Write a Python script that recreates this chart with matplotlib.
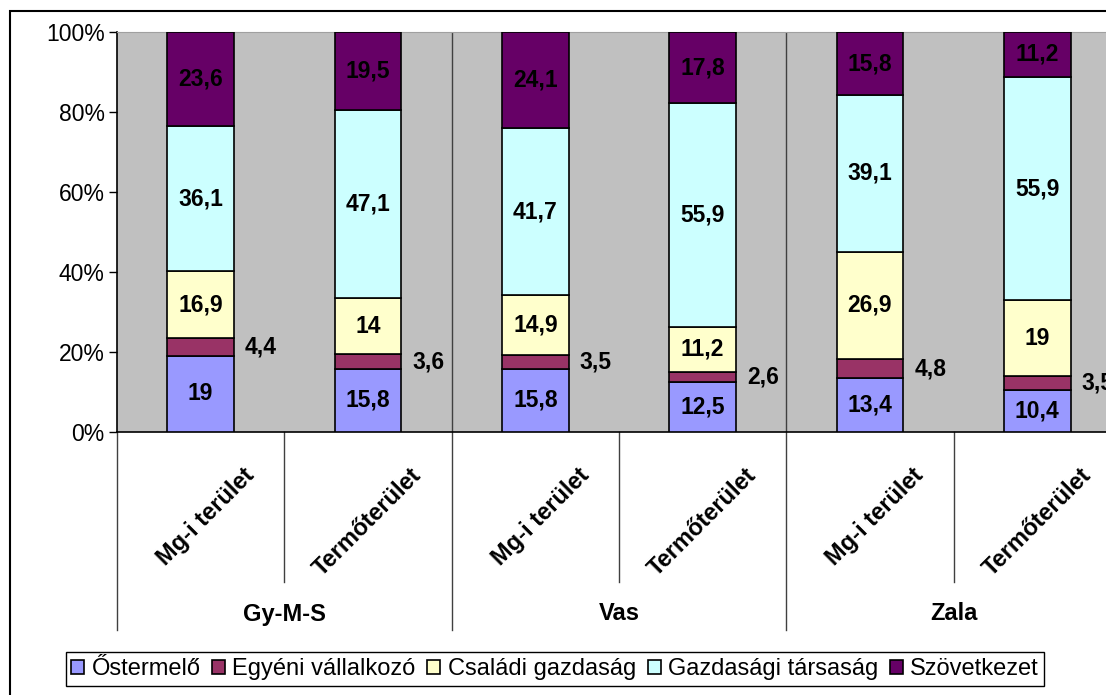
import numpy as np
import matplotlib
matplotlib.use("Agg")
import matplotlib.pyplot as plt
from matplotlib.patches import Rectangle

plt.rcParams['font.family'] = ['Liberation Sans', 'DejaVu Sans']

# data (percent shares)
groups = ['Gy-M-S', 'Vas', 'Zala']
subcats = ['Mg-i terület', 'Termőterület']
series = ['Őstermelő', 'Egyéni vállalkozó', 'Családi gazdaság',
          'Gazdasági társaság', 'Szövetkezet']
ostermelo = [19, 15.8, 15.8, 12.5, 13.4, 10.4]
egyeni = [4.4, 3.6, 3.5, 2.6, 4.8, 3.5]
csaladi = [16.9, 14, 14.9, 11.2, 26.9, 19]
tarsasag = [36.1, 47.1, 41.7, 55.9, 39.1, 55.9]
szovetkezet = [23.6, 19.5, 24.1, 17.8, 15.8, 11.2]
colors = ['#9999FF', '#993366', '#FFFFCC', '#CCFFFF', '#660066']

W, H = 1106, 695
fig = plt.figure(figsize=(W / 100, H / 100), dpi=100)

# outer chart border
fig.patches.append(Rectangle((10 / W, -0.01), 1.2, 1 - 11 / H + 0.01,
                             transform=fig.transFigure, fill=False,
                             edgecolor='black', linewidth=1.5))

ax = fig.add_axes([117 / W, (H - 432) / H, 1004 / W, 400 / H])
ax.set_facecolor('#C0C0C0')

x = np.arange(6) + 0.5
values = [ostermelo, egyeni, csaladi, tarsasag, szovetkezet]
bottom = np.zeros(6)
for name, vals, col in zip(series, values, colors):
    vals = np.array(vals, dtype=float)
    ax.bar(x, vals, 0.4, bottom=bottom, color=col, edgecolor='black',
           linewidth=1.2, label=name, zorder=3)
    for xi, b, v in zip(x, bottom, vals):
        txt = f'{v:g}'.replace('.', ',')
        if name == 'Egyéni vállalkozó':
            ax.text(xi + 0.2 + 0.065, b + v / 2, txt, ha='left', va='center',
                    fontsize=16.5, fontweight='bold', zorder=4, clip_on=False)
        else:
            ax.text(xi, b + v / 2, txt, ha='center', va='center',
                    fontsize=16.5, fontweight='bold', zorder=4,
                    color='black')
    bottom += vals

ax.set_xlim(0, 6)
ax.set_ylim(0, 100)
ax.set_yticks(np.arange(0, 101, 20))
ax.set_yticklabels([f'{t}%' for t in range(0, 101, 20)], fontsize=16.5)
ax.tick_params(axis='y', length=6, width=1, direction='out', pad=3)
ax.set_xticks([])
ax.spines['top'].set_color('#A0A0A0')
ax.spines['top'].set_linewidth(0.8)
ax.spines['right'].set_visible(False)
ax.spines['left'].set_linewidth(1.2)
ax.spines['bottom'].set_linewidth(1.2)

# group separators inside plot area
for gx in [2, 4]:
    ax.axvline(gx, color='#404040', linewidth=1, zorder=2)

# multi-level category axis below
tr = ax.get_xaxis_transform()
for bx in range(7):
    low = -0.495 if bx % 2 == 0 else -0.375
    ax.plot([bx, bx], [0, low], transform=tr, color='#404040',
            linewidth=1, clip_on=False)
for i, xi in enumerate(x):
    ax.text(xi + 0.3, -0.1, subcats[i % 2], transform=tr, rotation=45,
            rotation_mode='anchor', ha='right', va='center',
            fontsize=17, fontweight='bold')
for g, name in enumerate(groups):
    ax.text(2 * g + 1, -0.455, name, transform=tr, ha='center', va='center',
            fontsize=17, fontweight='bold')

leg = fig.legend(loc='center', bbox_to_anchor=(555 / W, 1 - 669 / H),
                 ncol=5, fontsize=17, frameon=True, fancybox=False,
                 edgecolor='black', framealpha=1, handlelength=0.55,
                 handleheight=0.55, handletextpad=0.3, columnspacing=0.5,
                 borderpad=0.25, borderaxespad=0)
leg.get_frame().set_linewidth(1)

fig.savefig('out.png', dpi=100)
